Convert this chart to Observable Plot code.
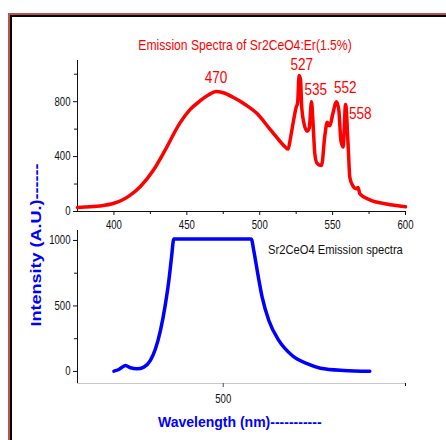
<!DOCTYPE html>
<html><head><meta charset="utf-8">
<script src="https://cdn.jsdelivr.net/npm/d3@7"></script>
<script src="https://cdn.jsdelivr.net/npm/@observablehq/plot@0.6"></script>
<style>
html,body{margin:0;padding:0;background:#fff;}
#wrap{position:relative;width:446px;height:440px;overflow:hidden;background:#fff;}
.abs{position:absolute;white-space:nowrap;line-height:1;}
.narrow{font-family:'Liberation Sans',Arial,sans-serif;}
.bold{font-family:'Liberation Sans',Arial,sans-serif;font-weight:bold;color:#0000ff;font-size:14px;}
svg{position:absolute;left:0;}
</style></head><body><div id="wrap"></div>
<script>
// ---- Data ----
const redWavelength = [375, 380, 390, 400, 405, 410, 418, 427, 435, 445, 452, 459, 465, 470, 475, 482, 490, 498, 507, 514, 517.5, 519.5, 521, 523, 525, 526, 527, 528, 528.8, 530.2, 532.5, 534, 535.5, 536.6, 537.8, 539.4, 542.4, 544.7, 546.3, 548.1, 550, 552.7, 554.3, 555.7, 557.2, 558.9, 560.7, 561.8, 563.7, 566.4, 567.5, 568.7, 575.6, 587, 600];
const redIntensity = [30, 32, 40, 60, 80, 110, 180, 300, 445, 640, 740, 805, 850, 875, 865, 830, 780, 715, 600, 510, 470, 455, 530, 650, 760, 790, 990, 960, 760, 650, 585, 610, 800, 640, 420, 350, 335, 555, 650, 625, 705, 800, 735, 515, 470, 780, 470, 250, 190, 165, 175, 128, 85, 55, 34];
const peakLabels = ["470", "527", "535", "552", "558"];
const peakWavelength = [470, 527, 535, 552, 558];
const peakIntensity = [875, 990, 800, 800, 780];
const topXTicks = [400, 450, 500, 550, 600];
const topXMinor = [425, 475, 525, 575];
const topYTicks = [0, 400, 800];
const topYMinor = [200, 600, 1000];

const blueWavelength = [410, 414, 419.5, 423.6, 429, 434.6, 440, 444.2, 448.3, 452.4, 455.2, 457.4, 459.3, 523, 525.1, 528.4, 532, 537.5, 545.7, 556.7, 569, 580, 599, 620.6];
const blueIntensity = [2, 15, 46, 28, 20, 33, 84, 173, 313, 516, 694, 872, 1012, 1012, 923, 745, 567, 389, 237, 122, 59, 25, 8, 2];
const bottomXTicks = [500];
const bottomYTicks = [0, 500, 1000];
const bottomYMinor = [250, 750];

const titleText = "Emission Spectra of Sr2CeO4:Er(1.5%)";
const legendText = "Sr2CeO4 Emission spectra";
const xLabelText = "Wavelength (nm)-----------";
const yLabelText = "Intensity (A.U.)------";

// ---- Build ----
const FONT = "'Liberation Sans',Arial,sans-serif";
const wrap = document.getElementById("wrap");
const red = redWavelength.map((x, i) => ({x, y: redIntensity[i]}));
const blue = blueWavelength.map((x, i) => ({x, y: blueIntensity[i]}));
const peaks = peakLabels.map((t, i) => ({t, x: peakWavelength[i], y: peakIntensity[i]}));
const peakOffsets = [[0, -13.5], [2.7, -10.6], [5, -12], [9.8, -14], [16, 9]];

const topPlot = Plot.plot({
  width: 446, height: 206,
  marginLeft: 77, marginRight: 41, marginTop: 30, marginBottom: 25,
  style: {fontFamily: FONT, fontSize: "12px", color: "#111", background: "transparent", overflow: "visible"},
  x: {domain: [375, 600], axis: null},
  y: {domain: [0, 1100], axis: null},
  marks: [
    Plot.ruleX([375], {stroke: "#111"}),
    Plot.ruleY([0], {stroke: "#111"}),
    Plot.axisX(topXTicks, {anchor: "bottom", label: null, tickSize: 4, tickPadding: 5, tickFormat: d => String(d), fontSize: 12}),
    Plot.axisX(topXMinor, {anchor: "bottom", label: null, tickSize: 3, text: null}),
    Plot.axisY(topYTicks, {anchor: "left", label: null, tickSize: 4, tickPadding: 3, tickFormat: d => String(d), fontSize: 12}),
    Plot.axisY(topYMinor, {anchor: "left", label: null, tickSize: 3, text: null}),
    Plot.line(red, {x: "x", y: "y", stroke: "#ff0000", strokeWidth: 3.5, strokeLinejoin: "round", curve: "monotone-x"}),
    ...peaks.map((p, i) => Plot.text([p], {x: "x", y: "y", text: "t", dx: peakOffsets[i][0], dy: peakOffsets[i][1], fill: "#ff0000", fontSize: 16, fontFamily: FONT, className: "peak"}))
  ]
});
topPlot.style.top = "30px";
wrap.appendChild(topPlot);

const bottomPlot = Plot.plot({
  width: 446, height: 190,
  marginLeft: 77, marginRight: 41, marginTop: 14, marginBottom: 23,
  style: {fontFamily: FONT, fontSize: "12px", color: "#111", background: "transparent", overflow: "visible"},
  x: {domain: [380, 650], axis: null},
  y: {domain: [-92, 1076], axis: null},
  marks: [
    Plot.ruleY([-92], {stroke: "#c8c8c8", strokeWidth: 1.2}),
    Plot.ruleX([380], {stroke: "#111"}),
    Plot.axisX(bottomXTicks, {anchor: "bottom", label: null, tickSize: 4, tickPadding: 7, tickFormat: d => String(d), fontSize: 12, stroke: "#555"}),
    Plot.axisX([650], {anchor: "bottom", label: null, tickSize: 3, text: null}),
    Plot.axisY(bottomYTicks, {anchor: "left", label: null, tickSize: 4, tickPadding: 3, tickFormat: d => String(d), fontSize: 12}),
    Plot.axisY(bottomYMinor, {anchor: "left", label: null, tickSize: 3, text: null}),
    Plot.line(blue, {x: "x", y: "y", stroke: "#0000ff", strokeWidth: 3.5, strokeLinejoin: "round", curve: "monotone-x"})
  ]
});
bottomPlot.style.top = "216px";
wrap.appendChild(bottomPlot);

// narrow (Arial Narrow-like) rendering of the SVG texts
for (const svg of [topPlot, bottomPlot]) {
  svg.querySelectorAll("text").forEach(t => {
    const isPeak = t.closest(".peak") != null;
    const s = isPeak ? 0.85 : 0.8;
    t.setAttribute("transform", (t.getAttribute("transform") || "") + ` scale(${s},1)`);
  });
}

// frame
function addDiv(css, text, cls) {
  const d = document.createElement("div");
  d.className = "abs " + (cls || "");
  d.style.cssText += css;
  if (text) d.textContent = text;
  wrap.appendChild(d);
  return d;
}
addDiv("left:8px;top:13px;width:600px;height:600px;border-left:2px solid #c0504d;border-top:2px solid #c0504d;");
addDiv("left:10px;top:15px;width:600px;height:600px;border-left:2.5px solid #000;border-top:2.5px solid #000;");

addDiv("left:245px;top:44px;transform:translate(-50%,-50%) scale(0.81,1);font-size:15px;color:#ff0000;", titleText, "narrow");
addDiv("left:268px;top:249px;transform-origin:0 50%;transform:translate(0,-50%) scale(0.86,1);font-size:13px;color:#111;", legendText, "narrow");
addDiv("left:158px;top:422px;transform:translate(0,-50%);", xLabelText, "bold");
addDiv("left:35px;top:245px;font-size:15px;transform:translate(-50%,-50%) rotate(-90deg) scale(1.2,1);", yLabelText, "bold");
</script>
</body></html>
